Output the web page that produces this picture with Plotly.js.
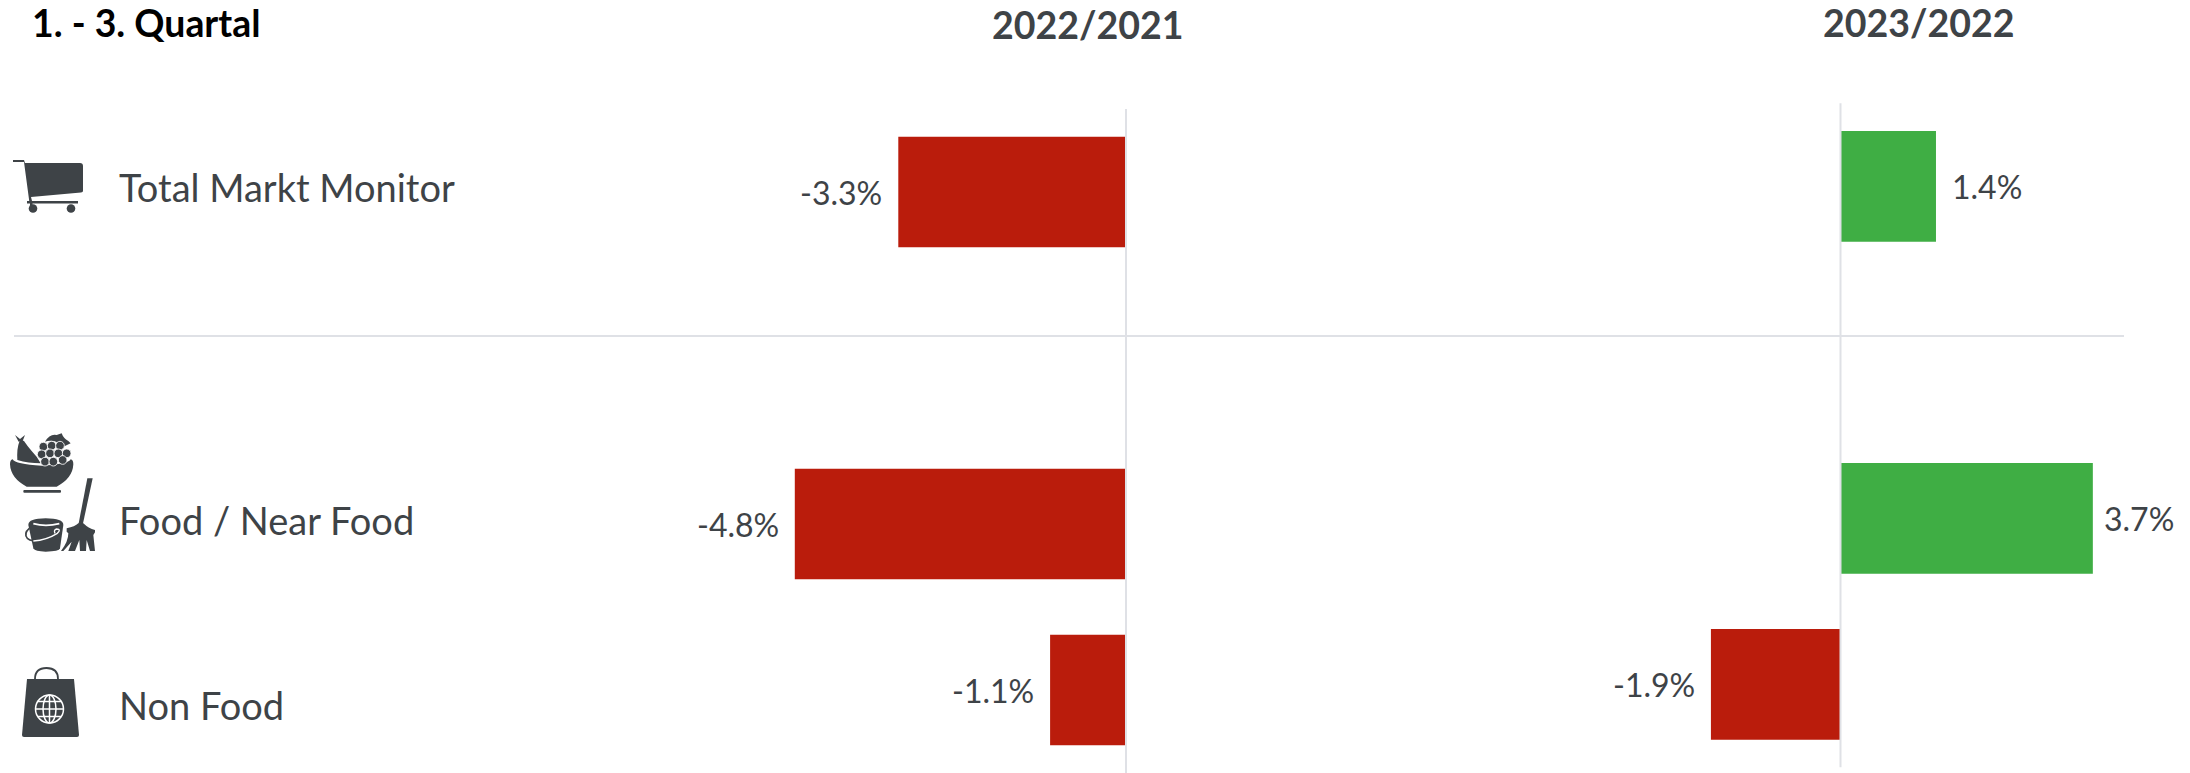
<!DOCTYPE html>
<html><head><meta charset="utf-8">
<script src="https://cdn.plot.ly/plotly-3.0.1.min.js"></script>
<style>html,body{margin:0;padding:0;background:#fff;overflow:hidden}#c{width:2190px;height:773px}</style>
</head><body><div id="c"></div>
<script>
const categories = ["Total Markt Monitor", " ", "Food / Near Food", "Non Food"];
const values2022 = [-3.3, null, -4.8, -1.1];
const values2023 = [1.4, null, 3.7, -1.9];
const period = "1. - 3. Quartal";
const columnTitles = ["2022/2021", "2023/2022"];

const W = 2190, H = 773;
const INK = "#3e4347", RED = "#ba1c0c", GREEN = "#3fae44", RULE = "#dfe1e6", FONT = "Lato, sans-serif";
const fmt = v => v.toFixed(1) + "%";
const colors = vs => vs.map(v => v === null ? RED : (v < 0 ? RED : GREEN));
const px = x => x / W, py = y => 1 - y / H;

function bars(vals, xa, ya) {
  return {type: "bar", orientation: "h", x: vals, y: categories, xaxis: xa, yaxis: ya,
    width: 0.667, marker: {color: colors(vals), line: {width: 0}}, hoverinfo: "skip"};
}
function xAxis(l, r, zero, scale) {
  return {domain: [px(l), px(r)], range: [(l - zero) / scale, (r - zero) / scale], visible: false, fixedrange: true};
}
function yAxis(top, bottom, xa) {
  return {domain: [py(bottom), py(top)], type: "category", categoryorder: "array", categoryarray: categories,
    range: [3.5, -0.5], visible: false, fixedrange: true, anchor: xa};
}
function valueNotes(vals, xa, ya, gaps) {
  return vals.map((v, i) => v === null ? null : ({
    text: fmt(v), x: v, y: categories[i], xref: xa, yref: ya, showarrow: false,
    xanchor: v < 0 ? "right" : "left", xshift: (v < 0 ? -1 : 1) * gaps[i], yshift: 0,
    font: {family: FONT, size: 32, color: INK}
  })).filter(Boolean);
}
function textNote(text, x, y, anchor, size, color, bold) {
  return {text: bold ? "<b>" + text + "</b>" : text, x: px(x), y: py(y), xref: "paper", yref: "paper", showarrow: false,
    xanchor: anchor, yanchor: "middle", font: {family: FONT, size, color}};
}
function svgImg(body, x, y, w, h, vb) {
  const svg = `<svg xmlns="http://www.w3.org/2000/svg" width="${w}" height="${h}" viewBox="${vb || `0 0 ${w} ${h}`}">${body}</svg>`;
  return {source: "data:image/svg+xml;base64," + btoa(svg), xref: "paper", yref: "paper",
    x: px(x), y: py(y), sizex: w / W, sizey: h / H, xanchor: "left", yanchor: "top", sizing: "stretch", layer: "above"};
}
const cart = `<g fill="${INK}"><path d="M0 0h11l1 3h55q3 0 3 3v25q0 1-2 1.500L18 37l1.500 6h-3L11 2H0z"/><rect x="14" y="41" width="51" height="2.500"/><rect x="17" y="41" width="2.500" height="7"/><circle cx="20" cy="48.500" r="4.300"/><circle cx="58" cy="48.500" r="4.300"/></g>`;
const grapes = [[130,65],[155,62],[180,62],[125,88],[150,85],[175,85],[200,85],[135,110],[160,110],[188,105]];
const food = `<g fill="${INK}">
<path d="M30 118Q30 105 38 103Q45 118 125 122Q205 118 212 103Q220 105 220 118Q218 160 170 185H80Q32 160 30 118Z"/>
<rect x="70" y="195" width="113" height="8" rx="3"/>
<path d="M52 105Q50 70 58 50Q62 42 72 48Q80 60 95 78Q112 95 122 115Q85 115 52 105Z"/>
<path d="M45 30L60 42L75 30L68 48L56 50Z"/>
<path d="M135 50Q150 25 170 30L185 25Q190 40 205 48L212 55L190 65Q165 40 135 50Z"/>
${grapes.map(g => `<circle cx="${g[0]}" cy="${g[1]}" r="13" stroke="#fff" stroke-width="2.500"/>`).join("")}
<path d="M85 300Q85 280 137 280Q190 280 190 300L180 370Q178 380 137 380Q105 380 100 370Z"/>
<path d="M262 160H278L248 300H235Z"/>
<path d="M200 310Q225 305 235 295H250Q265 310 285 315V322L280 330L285 378H270L260 345L258 378H240L238 345L225 378H205L215 350L190 378H183Q205 350 205 325L200 320Z"/>
</g>
<path d="M100 296Q137 306 178 296" fill="none" stroke="#fff" stroke-width="5"/>
<path d="M88 310Q70 325 82 340Q92 350 110 345" fill="none" stroke="${INK}" stroke-width="5"/>
<path d="M100 348Q140 345 172 325Q185 312 170 312Q160 315 165 325" fill="none" stroke="#fff" stroke-width="4"/>`;
const bag = `<path d="M13 12q0-11 11.500-11T36 12" fill="none" stroke="${INK}" stroke-width="1.800"/><path d="M5 12h47l5 56q0 2-2 2H2q-2 0-2-2z" fill="${INK}"/><g fill="none" stroke="#fff" stroke-width="1.500"><circle cx="27.500" cy="42" r="14"/><ellipse cx="27.500" cy="42" rx="6.500" ry="14"/><path d="M27.500 28v28M13.500 42h28M15.500 34.500h24M15.500 49.500h24"/></g>`;

const traces = [bars(values2022, "x", "y"), bars(values2023, "x2", "y2")];
const layout = {
  width: W, height: H, margin: {l: 0, r: 0, t: 0, b: 0, pad: 0}, paper_bgcolor: "#fff", plot_bgcolor: "rgba(0,0,0,0)",
  showlegend: false, font: {family: FONT, color: INK},
  xaxis: xAxis(500, 1500, 1126, 69), yaxis: yAxis(109, 773, "x"),
  xaxis2: xAxis(1500, 2190, 1840.5, 68.2), yaxis2: yAxis(103.3, 767.3, "x2"),
  shapes: [
    {type: "line", xref: "x", yref: "y domain", x0: 0, x1: 0, y0: 0, y1: 1, line: {color: RULE, width: 2}, layer: "above"},
    {type: "line", xref: "x2", yref: "y2 domain", x0: 0, x1: 0, y0: 0, y1: 1, line: {color: RULE, width: 2}, layer: "above"},
    {type: "line", xref: "paper", yref: "paper", x0: px(14), x1: px(2124), y0: py(336), y1: py(336), line: {color: RULE, width: 2}, layer: "below"}
  ],
  annotations: [
    textNote(period, 30, 23, "left", 37.4, "#000", true),
    textNote(columnTitles[0], 1087, 24.5, "center", 37.5, INK, true),
    textNote(columnTitles[1], 1918, 22, "center", 37.5, INK, true),
    textNote(categories[0], 117, 187, "left", 38, INK),
    textNote(categories[2], 117, 520, "left", 38, INK),
    textNote(categories[3], 117, 705, "left", 38, INK),
    ...valueNotes(values2022, "x", "y", [14, null, 14, 14]),
    ...valueNotes(values2023, "x2", "y2", [14, null, 9, 14])
  ],
  images: [
    svgImg(cart, 13, 160, 70, 54),
    svgImg(food, 0, 425, 110, 135, "0 0 330 405"),
    svgImg(bag, 22, 667, 58, 72)
  ]
};
Plotly.newPlot("c", traces, layout, {displayModeBar: false, staticPlot: true});
</script></body></html>
